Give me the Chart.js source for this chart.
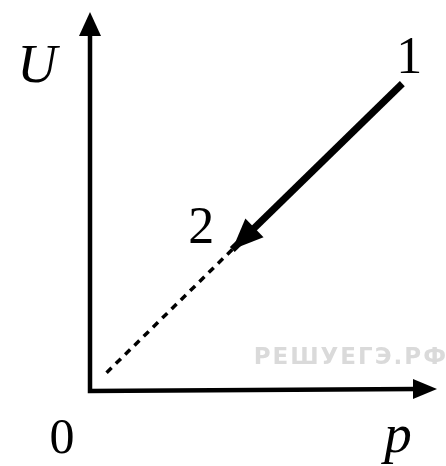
<!DOCTYPE html>
<html>
<head>
<meta charset="utf-8">
<script src="https://cdn.jsdelivr.net/npm/chart.js@4/dist/chart.umd.min.js"></script>
<style>
  html, body { margin: 0; padding: 0; background: #fff; }
  #wrap { width: 446px; height: 466px; }
</style>
</head>
<body>
<div id="wrap"><canvas id="uvp" width="446" height="466"></canvas></div>
<script>
// ---------- данные графика U(p) ----------
const stateLabels = ['1', '2'];
const pressure = [9.0, 4.1];      // p в состояниях 1 и 2
const energy = [8.1, 3.7];        // U в состояниях 1 и 2
const extP = [4.1, 0.42];         // продолжение прямой к началу координат
const extU = [3.7, 0.38];
const axisMax = { p: 10, U: 10 };
const axisNames = { x: 'p', y: 'U', origin: '0' };
const watermark = 'РЕШУЕГЭ.РФ';

const serif = '"Liberation Serif", "DejaVu Serif", serif';

function arrowHead(ctx, tipX, tipY, fromX, fromY, len, half) {
    const a = Math.atan2(tipY - fromY, tipX - fromX);
    ctx.beginPath();
    ctx.moveTo(tipX, tipY);
    ctx.lineTo(tipX - len * Math.cos(a) + half * Math.sin(a), tipY - len * Math.sin(a) - half * Math.cos(a));
    ctx.lineTo(tipX - len * Math.cos(a) - half * Math.sin(a), tipY - len * Math.sin(a) + half * Math.cos(a));
    ctx.closePath();
    ctx.fill();
}

// оси со стрелками, подписи и водяной знак
const diagramPlugin = {
    id: 'diagram',
    beforeDatasetsDraw(chart) {
        const { ctx, scales: { x, y } } = chart;
        const x0 = x.getPixelForValue(0), y0 = y.getPixelForValue(0);
        const xEnd = x.getPixelForValue(axisMax.p), yEnd = y.getPixelForValue(axisMax.U);
        ctx.save();

        // водяной знак
        ctx.fillStyle = '#dadada';
        ctx.font = 'bold 23px "DejaVu Sans", sans-serif';
        ctx.textAlign = 'right';
        ctx.textBaseline = 'alphabetic';
        ctx.letterSpacing = '2px';
        ctx.fillText(watermark, 448, 364);
        ctx.letterSpacing = '0px';

        ctx.strokeStyle = '#000';
        ctx.fillStyle = '#000';
        ctx.lineWidth = 4.5;
        ctx.lineCap = 'butt';
        ctx.beginPath();
        ctx.moveTo(x0, yEnd + 20);
        ctx.lineTo(x0, y0 + 2);
        ctx.lineTo(xEnd - 20, y0);
        ctx.stroke();
        arrowHead(ctx, x0, yEnd, x0, y0, 24, 11);
        arrowHead(ctx, xEnd, y0, x0, y0, 24, 10);

        ctx.font = 'italic 55px ' + serif;
        ctx.textAlign = 'center';
        ctx.fillText(axisNames.y, 37, 82);
        ctx.fillText(axisNames.x, 398, 452);
        ctx.font = '50px ' + serif;
        ctx.fillText(axisNames.origin, 62, 453);
        ctx.restore();
    },
    afterDatasetsDraw(chart) {
        const { ctx } = chart;
        const pts = chart.getDatasetMeta(0).data;
        ctx.save();
        ctx.fillStyle = '#000';
        // стрелка процесса 1 → 2
        arrowHead(ctx, pts[1].x, pts[1].y, pts[0].x, pts[0].y, 31, 13);
        ctx.font = '52px ' + serif;
        ctx.textAlign = 'center';
        ctx.fillText(stateLabels[0], pts[0].x + 7, pts[0].y - 11);
        ctx.fillText(stateLabels[1], pts[1].x - 31, pts[1].y - 7);
        ctx.restore();
    }
};

new Chart(document.getElementById('uvp'), {
    type: 'scatter',
    data: {
        datasets: [
            {
                data: pressure.map((p, i) => ({ x: p, y: energy[i] })),
                showLine: true,
                borderColor: '#000',
                borderWidth: 7,
                borderCapStyle: 'butt',
                pointRadius: 0
            },
            {
                data: extP.map((p, i) => ({ x: p, y: extU[i] })),
                showLine: true,
                borderColor: '#000',
                borderWidth: 3.5,
                borderDash: [7, 6],
                pointRadius: 0
            }
        ]
    },
    options: {
        responsive: false,
        animation: false,
        events: [],
        layout: { padding: { left: 90, right: 9, top: 12, bottom: 77 } },
        plugins: { legend: { display: false }, tooltip: { enabled: false } },
        scales: {
            x: { type: 'linear', display: false, min: 0, max: axisMax.p },
            y: { type: 'linear', display: false, min: 0, max: axisMax.U }
        }
    },
    plugins: [diagramPlugin]
});
</script>
</body>
</html>
